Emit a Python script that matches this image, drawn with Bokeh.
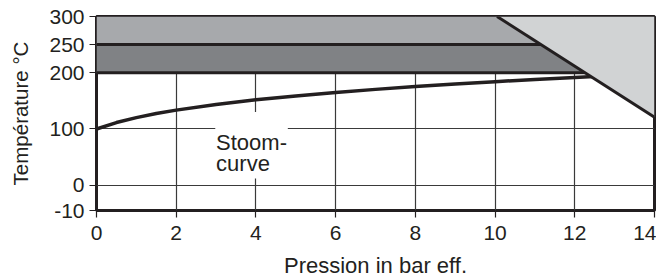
import numpy as np
from bokeh.plotting import figure
from bokeh.models import Range1d, FixedTicker, Label, BoxAnnotation
from bokeh.embed import file_html
from bokeh.resources import INLINE

# ---- data ----
pressure = [0, 0.5, 1, 1.5, 2, 3, 4, 5, 6, 7, 8, 9, 10, 11, 12, 12.6]
steam_temp = [100, 111.4, 120.2, 127.4, 133.5, 143.6, 151.8, 158.8, 165.0,
              170.4, 175.4, 179.9, 184.1, 188.0, 191.6, 193.7]
diag_x = [10.05, 14.0]
diag_y = [300, 121]
band_levels = [200, 250, 300]
band_colors = ["#808285", "#a7a9ac"]
x_ticks = [0, 2, 4, 6, 8, 10, 12, 14]
y_ticks = [-10, 0, 100, 200, 250, 300]
y_grid = [0, 100, 200, 250]

INK = "#231f20"
FONT = "Liberation Sans"


def ty(v):
    """broken y-scale: below zero compressed segment"""
    v = np.asarray(v, dtype=float)
    return np.where(v >= 0, v, v * 4.5)


def diag_at(y):
    # x position of the diagonal limit line at temperature y
    return float(np.interp(y, diag_y[::-1], diag_x[::-1]))


p = figure(width=656, height=280, x_range=Range1d(0, 14),
           y_range=Range1d(float(ty(-10)), 300),
           output_backend="svg", toolbar_location=None,
           min_border_left=96, min_border_right=2,
           min_border_top=16, min_border_bottom=68)

p.background_fill_color = "white"
p.border_fill_color = "white"
p.outline_line_color = INK
p.outline_line_width = 3

# grid
p.xgrid.ticker = FixedTicker(ticks=x_ticks[1:-1])
p.ygrid.ticker = FixedTicker(ticks=y_grid)
for g in (p.xgrid, p.ygrid):
    g.grid_line_color = "#3a3a3a"
    g.grid_line_width = 1.2

# bands
for lo, hi, col in zip(band_levels[:-1], band_levels[1:], band_colors):
    xs = [0, diag_at(lo), diag_at(hi), 0]
    ys = [lo, lo, hi, hi]
    p.patch(xs, ys, fill_color=col, line_color=None)
for lvl in band_levels[:-1]:
    p.line([0, diag_at(lvl)], [lvl, lvl], line_color=INK, line_width=3)

# steam curve
p.line(pressure, steam_temp, line_color=INK, line_width=3.5)

# triangle region
p.patch([diag_x[0], 14, diag_x[1]], [diag_y[0], 300, diag_y[1]],
        fill_color="#d1d3d4", line_color=None)
p.line(diag_x, diag_y, line_color=INK, line_width=3)

# label box
p.add_layout(BoxAnnotation(left=2.98, right=4.8, bottom=12, top=130,
                           fill_color="white", fill_alpha=1, line_color=None))
p.add_layout(Label(x=3.0, y=76, text="Stoom-", text_font=FONT,
                   text_font_size="22px", text_color=INK,
                   text_baseline="alphabetic"))
p.add_layout(Label(x=3.0, y=39, text="curve", text_font=FONT,
                   text_font_size="22px", text_color=INK,
                   text_baseline="alphabetic"))

# axes
p.xaxis.ticker = FixedTicker(ticks=x_ticks)
yt = [float(ty(v)) for v in y_ticks]
p.yaxis.ticker = FixedTicker(ticks=yt)
p.yaxis.major_label_overrides = {t: str(v) for t, v in zip(yt, y_ticks)}

p.xaxis.axis_label = "Pression in bar eff."
p.yaxis.axis_label = "Température °C"
for ax in (p.xaxis, p.yaxis):
    ax.axis_line_color = None
    ax.major_tick_line_color = INK
    ax.major_tick_line_width = 1.2
    ax.major_tick_out = 7
    ax.major_tick_in = 0
    ax.minor_tick_line_color = None
    ax.major_label_text_font = FONT
    ax.major_label_text_font_size = "21px"
    ax.major_label_text_color = INK
    ax.axis_label_text_font = FONT
    ax.axis_label_text_font_style = "normal"
    ax.axis_label_text_color = INK
p.yaxis.major_label_standoff = 5
p.xaxis.major_label_standoff = 8
p.xaxis.axis_label_text_font_size = "22px"
p.yaxis.axis_label_text_font_size = "20.5px"
p.xaxis.axis_label_standoff = 10
p.yaxis.axis_label_standoff = 14

open("out.html", "w").write(file_html(p, INLINE))
